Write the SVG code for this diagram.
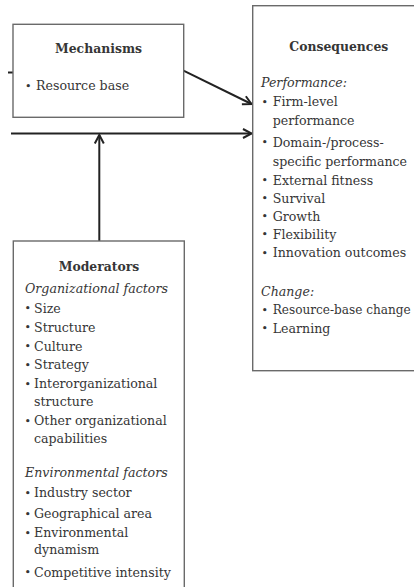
<svg xmlns="http://www.w3.org/2000/svg" width="414" height="587" viewBox="0 0 414 587">
  <style>
    .box { fill: #ffffff; stroke: #6a6a6a; stroke-width: 1.4; }
    .t { font-family: "DejaVu Serif", "Liberation Serif", serif; font-size: 12.6px; fill: #363636; }
    .h { font-weight: bold; text-anchor: middle; font-size: 12.4px; }
    .i { font-style: italic; }
    .b { font-size: 11px; }
    .edge { fill: none; stroke: #222222; stroke-width: 2; }
  </style>
  <defs>
    <marker id="arrow" markerUnits="userSpaceOnUse" markerWidth="14" markerHeight="14" refX="10" refY="6" orient="auto">
      <path d="M1.5,1.5 L10,6 L1.5,10.5" fill="none" stroke="#222222" stroke-width="2" stroke-linejoin="miter"/>
    </marker>
  </defs>

  <!-- connectors -->
  <g id="connectors">
    <line class="edge" x1="8" y1="72.5" x2="13" y2="72.5"/>
    <line class="edge" x1="183.5" y1="70.7" x2="251.5" y2="104" marker-end="url(#arrow)"/>
    <line class="edge" x1="11" y1="133.5" x2="251.5" y2="133.5" marker-end="url(#arrow)"/>
    <line class="edge" x1="99.3" y1="241" x2="99.3" y2="135" marker-end="url(#arrow)"/>
  </g>

  <!-- Mechanisms -->
  <g id="mechanisms">
    <rect class="box" x="13" y="24.3" width="170.7" height="93"/>
    <text class="t h" x="98.5" y="52.7">Mechanisms</text>
    <text class="t b" x="25" y="89.5">•</text>
    <text class="t" x="36" y="90">Resource base</text>
  </g>

  <!-- Consequences -->
  <g id="consequences">
    <rect class="box" x="252.7" y="5.7" width="172" height="365"/>
    <text class="t h" x="338.8" y="50.7">Consequences</text>
    <text class="t i" x="261" y="87.3">Performance:</text>
    <g class="t">
      <text class="b" x="261.5" y="105.5">•</text><text x="272.7" y="106">Firm-level</text>
      <text x="272.7" y="124.5">performance</text>
      <text class="b" x="261.5" y="146">•</text><text x="272.7" y="146.5">Domain-/process-</text>
      <text x="272.7" y="165.5">specific performance</text>
      <text class="b" x="261.5" y="184">•</text><text x="272.7" y="184.5">External fitness</text>
      <text class="b" x="261.5" y="202">•</text><text x="272.7" y="202.5">Survival</text>
      <text class="b" x="261.5" y="220">•</text><text x="272.7" y="220.5">Growth</text>
      <text class="b" x="261.5" y="238">•</text><text x="272.7" y="238.5">Flexibility</text>
      <text class="b" x="261.5" y="256.5">•</text><text x="272.7" y="257">Innovation outcomes</text>
      <text class="i" x="261" y="295.5">Change:</text>
      <text class="b" x="261.5" y="313.5">•</text><text x="272.7" y="314" font-size="12.1">Resource-base change</text>
      <text class="b" x="261.5" y="332">•</text><text x="272.7" y="332.5">Learning</text>
    </g>
  </g>

  <!-- Moderators -->
  <g id="moderators">
    <rect class="box" x="13.3" y="241" width="171" height="360"/>
    <text class="t h" x="99" y="270.7">Moderators</text>
    <g class="t">
      <text class="i" x="25" y="292.7">Organizational factors</text>
      <text class="b" x="24.5" y="312.2">•</text><text x="34" y="312.7">Size</text>
      <text class="b" x="24.5" y="331">•</text><text x="34" y="331.5">Structure</text>
      <text class="b" x="24.5" y="350">•</text><text x="34" y="350.5">Culture</text>
      <text class="b" x="24.5" y="368.8">•</text><text x="34" y="369.3">Strategy</text>
      <text class="b" x="24.5" y="387.8">•</text><text x="34" y="388.3">Interorganizational</text>
      <text x="34" y="405.7">structure</text>
      <text class="b" x="24.5" y="424.5">•</text><text x="34" y="425">Other organizational</text>
      <text x="34" y="442.7">capabilities</text>
      <text class="i" x="25" y="477.3">Environmental factors</text>
      <text class="b" x="24.5" y="496.8">•</text><text x="34" y="497.3">Industry sector</text>
      <text class="b" x="24.5" y="517.8">•</text><text x="34" y="518.3">Geographical area</text>
      <text class="b" x="24.5" y="536.8">•</text><text x="34" y="537.3">Environmental</text>
      <text x="34" y="554">dynamism</text>
      <text class="b" x="24.5" y="576.2">•</text><text x="34" y="576.7">Competitive intensity</text>
    </g>
  </g>
</svg>
